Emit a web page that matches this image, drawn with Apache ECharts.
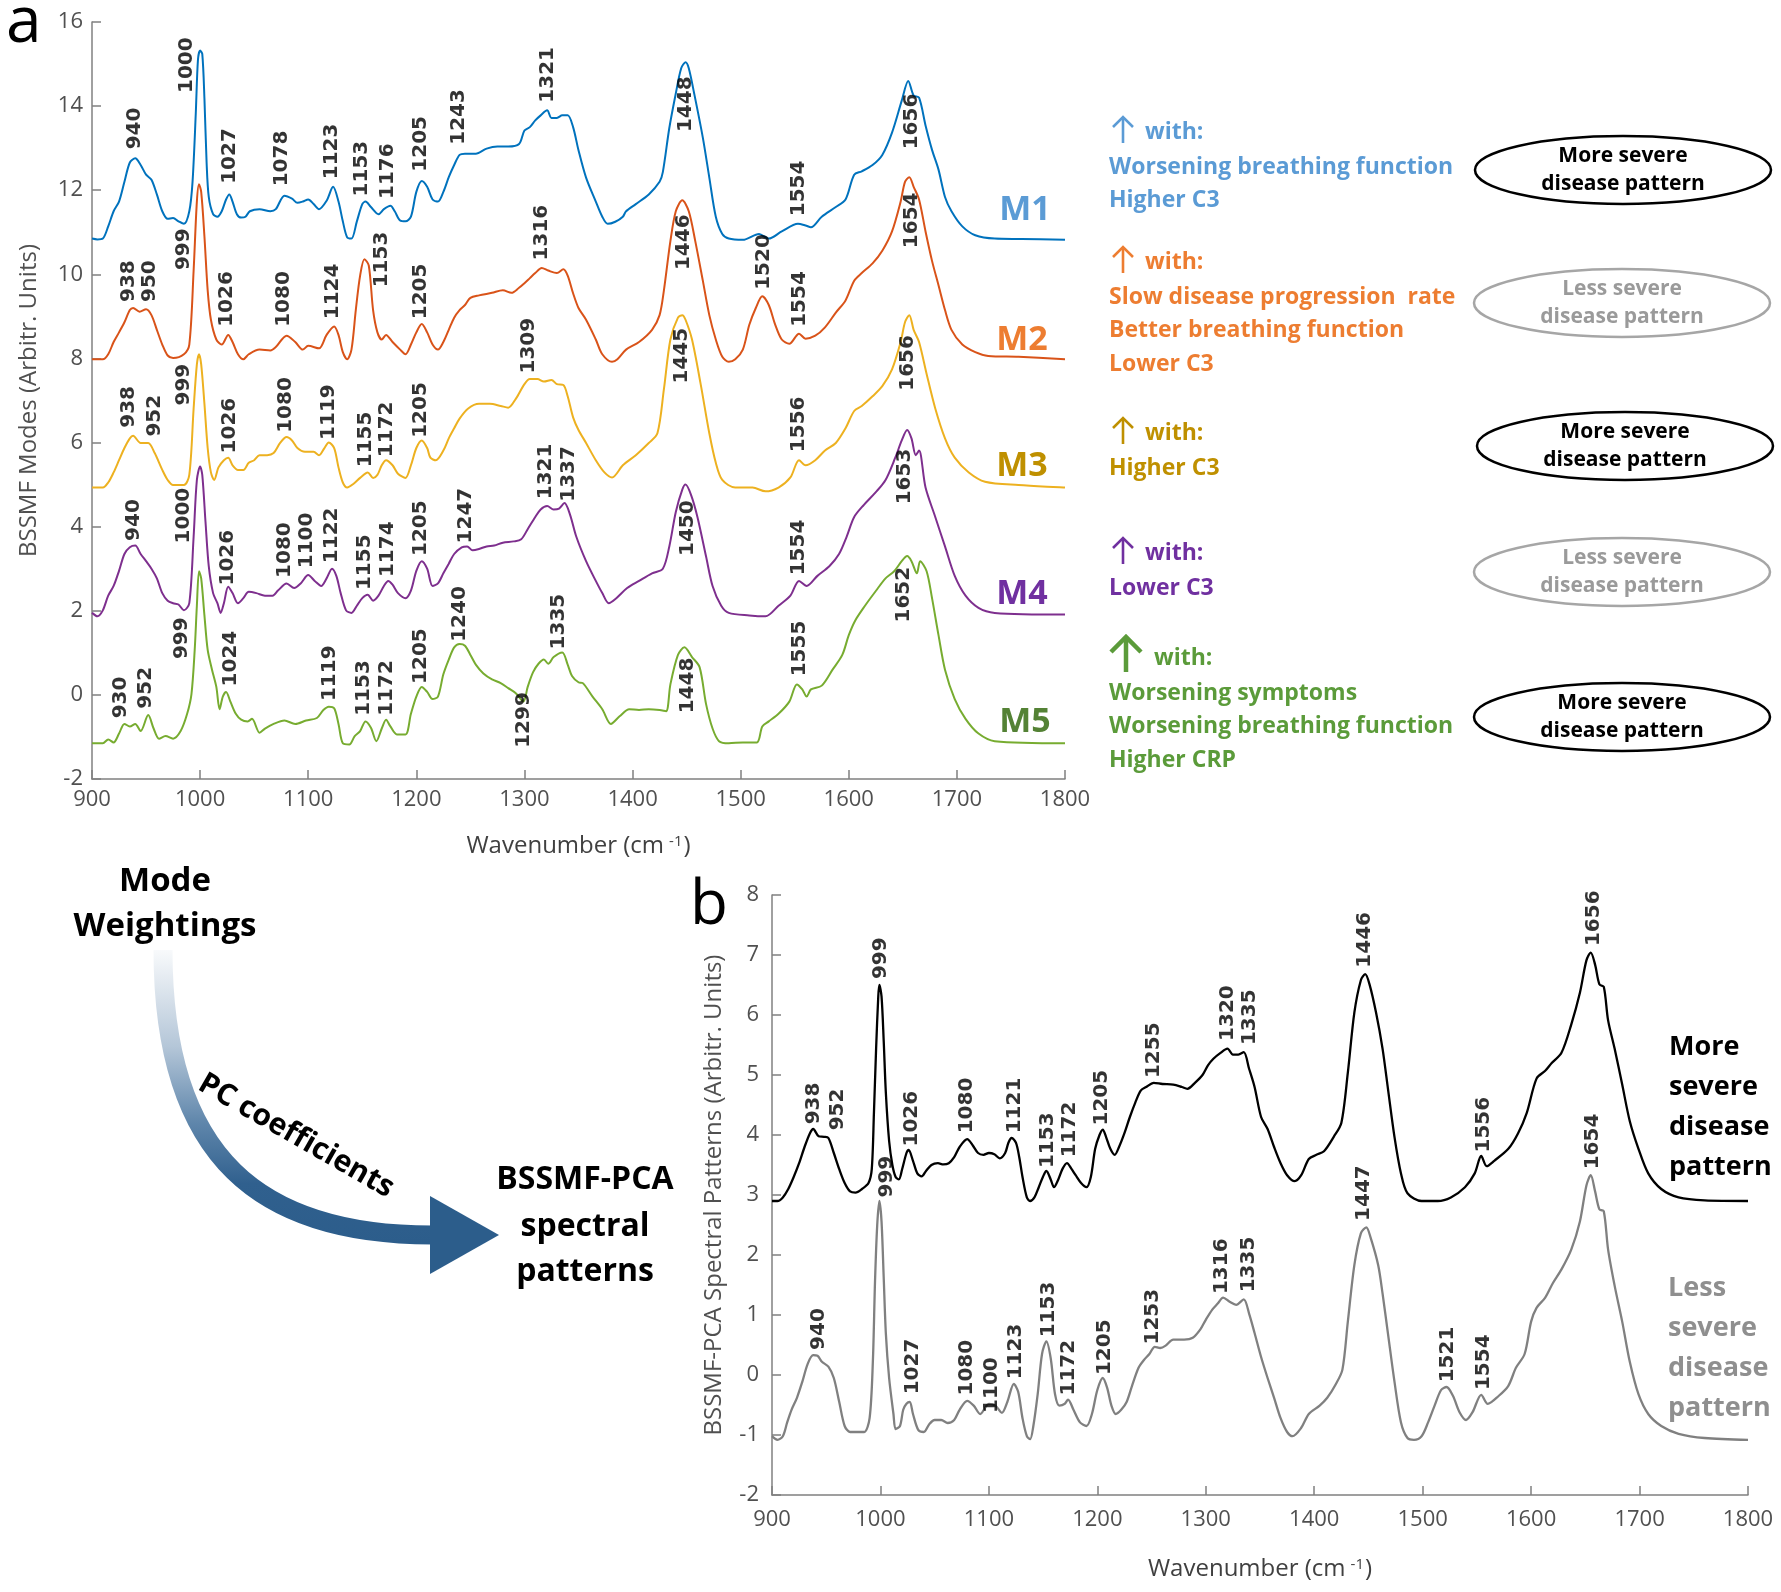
<!DOCTYPE html>
<html>
<head>
<meta charset="utf-8">
<script src="https://cdn.jsdelivr.net/npm/echarts@6/dist/echarts.min.js"></script>
<style>html,body{margin:0;padding:0;background:#fff}#c{width:1781px;height:1592px}</style>
</head>
<body>
<div id="c"></div>
<script>
// ---------- Panel a: BSSMF modes (wavenumber, value) ----------
const m1 = [[900,10.85],[905,10.83],[910,10.85],[915,11.14],[920,11.5],[925,11.73],[930,12.2],[935,12.66],[940,12.76],[945,12.6],[950,12.37],[955,12.25],[960,11.9],[965,11.5],[970,11.32],[975,11.34],[980,11.26],[985,11.2],[990,11.5],[993,12.2],[996,13.83],[998,15.1],[1000,15.32],[1002,15.24],[1004,14.18],[1006,12.66],[1008,11.84],[1012,11.43],[1016,11.37],[1020,11.5],[1024,11.78],[1027,11.9],[1030,11.73],[1034,11.43],[1038,11.35],[1042,11.37],[1046,11.5],[1055,11.55],[1065,11.5],[1070,11.55],[1078,11.87],[1085,11.8],[1090,11.7],[1095,11.73],[1100,11.78],[1105,11.67],[1110,11.55],[1117,11.75],[1123,12.08],[1128,11.73],[1132,11.26],[1136,10.88],[1140,10.85],[1145,11.26],[1150,11.67],[1153,11.73],[1158,11.6],[1165,11.43],[1170,11.55],[1176,11.63],[1180,11.5],[1185,11.28],[1190,11.26],[1195,11.37],[1200,11.96],[1205,12.22],[1210,12.08],[1215,11.78],[1220,11.73],[1225,11.96],[1230,12.31],[1235,12.6],[1240,12.84],[1245,12.87],[1255,12.87],[1265,12.99],[1275,13.04],[1285,13.04],[1295,13.1],[1300,13.42],[1305,13.5],[1310,13.66],[1315,13.78],[1321,13.9],[1325,13.72],[1330,13.72],[1335,13.78],[1340,13.78],[1345,13.5],[1350,12.95],[1357,12.3],[1366,11.73],[1372,11.37],[1377,11.2],[1384,11.25],[1391,11.37],[1394,11.5],[1403,11.67],[1415,11.9],[1425,12.2],[1428,12.43],[1434,13.48],[1440,14.3],[1445,14.9],[1449,15.04],[1452,14.9],[1457,14.3],[1465,13.25],[1471,12.3],[1477,11.37],[1483,10.96],[1489,10.85],[1502,10.82],[1517,10.96],[1526,10.85],[1538,11.02],[1553,11.2],[1560,11.16],[1565,11.12],[1575,11.37],[1588,11.6],[1597,11.78],[1605,12.37],[1612,12.45],[1622,12.6],[1631,12.84],[1640,13.37],[1649,14.13],[1655,14.6],[1660,14.25],[1665,14.2],[1671,13.54],[1677,12.96],[1683,12.49],[1689,11.84],[1695,11.5],[1705,11.14],[1717,10.93],[1735,10.85],[1760,10.84],[1800,10.82]];
const m2 = [[900,7.98],[910,7.98],[915,8.1],[920,8.39],[925,8.62],[930,8.86],[935,9.15],[938,9.2],[944,9.11],[950,9.17],[955,9.03],[960,8.68],[965,8.33],[970,8.07],[975,8.01],[985,8.1],[990,8.33],[994,10.09],[997,11.73],[999,12.14],[1001,11.96],[1004,10.9],[1007,9.62],[1010,8.92],[1015,8.45],[1020,8.33],[1026,8.56],[1030,8.39],[1035,8.1],[1040,7.98],[1045,8.1],[1055,8.21],[1065,8.19],[1070,8.27],[1080,8.54],[1088,8.39],[1095,8.21],[1100,8.3],[1110,8.24],[1117,8.56],[1124,8.76],[1128,8.56],[1132,8.15],[1136,7.98],[1140,8.21],[1144,9.15],[1148,9.97],[1152,10.36],[1156,10.21],[1160,9.15],[1164,8.62],[1168,8.45],[1172,8.56],[1178,8.39],[1185,8.21],[1190,8.1],[1195,8.33],[1200,8.62],[1205,8.82],[1210,8.62],[1215,8.33],[1220,8.21],[1225,8.39],[1230,8.68],[1235,8.97],[1240,9.15],[1245,9.27],[1250,9.44],[1258,9.5],[1270,9.56],[1280,9.62],[1288,9.56],[1295,9.68],[1300,9.79],[1305,9.91],[1310,10.03],[1316,10.15],[1322,10.09],[1330,10.03],[1336,10.12],[1340,9.97],[1345,9.55],[1350,9.2],[1357,8.92],[1366,8.45],[1372,8.1],[1381,7.92],[1386,7.98],[1394,8.21],[1406,8.39],[1418,8.68],[1425,9.03],[1429,9.62],[1435,10.79],[1440,11.5],[1446,11.76],[1452,11.5],[1458,10.79],[1465,9.85],[1471,9.03],[1477,8.45],[1483,8.04],[1489,7.92],[1495,7.98],[1502,8.21],[1508,8.8],[1514,9.2],[1520,9.48],[1526,9.27],[1532,8.8],[1538,8.45],[1545,8.35],[1554,8.59],[1560,8.47],[1569,8.54],[1578,8.74],[1588,9.09],[1597,9.38],[1605,9.85],[1612,10.03],[1622,10.26],[1631,10.56],[1640,11.02],[1648,11.73],[1652,12.2],[1656,12.31],[1660,12.08],[1665,11.78],[1671,11.02],[1677,10.32],[1683,9.74],[1689,9.15],[1695,8.68],[1705,8.33],[1717,8.15],[1729,8.06],[1757,8.04],[1800,7.98]];
const m3 = [[900,4.93],[910,4.93],[915,5.05],[920,5.29],[925,5.58],[930,5.87],[935,6.1],[938,6.16],[945,5.99],[952,5.99],[958,5.75],[965,5.35],[970,5.11],[975,4.99],[985,4.99],[990,5.23],[994,6.81],[997,7.86],[999,8.1],[1001,7.86],[1004,6.92],[1007,5.87],[1010,5.29],[1013,5.11],[1017,5.41],[1022,5.58],[1026,5.64],[1030,5.46],[1035,5.35],[1040,5.35],[1045,5.52],[1050,5.58],[1055,5.7],[1062,5.7],[1068,5.75],[1074,5.99],[1080,6.13],[1085,6.05],[1090,5.87],[1097,5.78],[1105,5.78],[1110,5.7],[1115,5.87],[1119,6.0],[1124,5.87],[1128,5.41],[1132,5.05],[1136,4.93],[1142,5.02],[1148,5.16],[1155,5.29],[1160,5.16],[1164,5.23],[1168,5.46],[1172,5.58],[1178,5.46],[1183,5.26],[1190,5.16],[1195,5.46],[1200,5.87],[1205,6.05],[1210,5.87],[1213,5.64],[1218,5.58],[1225,5.81],[1230,6.1],[1235,6.34],[1240,6.57],[1248,6.81],[1258,6.92],[1268,6.92],[1278,6.87],[1285,6.83],[1292,7.04],[1300,7.39],[1305,7.51],[1312,7.51],[1318,7.45],[1325,7.49],[1330,7.39],[1336,7.37],[1340,7.1],[1345,6.6],[1350,6.3],[1357,5.99],[1366,5.58],[1374,5.29],[1381,5.17],[1391,5.46],[1403,5.7],[1415,5.99],[1423,6.22],[1429,7.27],[1435,8.45],[1442,8.97],[1446,9.03],[1449,8.92],[1455,8.45],[1463,7.39],[1471,6.22],[1477,5.52],[1483,5.11],[1495,4.93],[1511,4.93],[1523,4.84],[1535,4.93],[1546,5.17],[1554,5.58],[1560,5.46],[1569,5.58],[1578,5.81],[1588,5.99],[1597,6.34],[1605,6.75],[1612,6.87],[1622,7.1],[1631,7.34],[1640,7.74],[1648,8.39],[1652,8.86],[1656,9.03],[1660,8.68],[1665,8.39],[1672,7.63],[1680,6.81],[1689,6.1],[1698,5.64],[1711,5.29],[1726,5.07],[1757,4.99],[1800,4.93]];
const m4 = [[900,1.95],[905,1.87],[910,2.01],[915,2.36],[920,2.59],[925,2.95],[930,3.35],[935,3.51],[940,3.55],[945,3.35],[950,3.18],[955,3.0],[960,2.77],[965,2.42],[970,2.24],[975,2.18],[980,2.15],[985,2.01],[990,2.18],[994,3.76],[997,5.11],[1000,5.43],[1002,5.23],[1005,4.11],[1008,3.06],[1012,2.42],[1016,2.18],[1019,1.95],[1022,2.18],[1026,2.57],[1030,2.42],[1035,2.18],[1040,2.3],[1045,2.45],[1052,2.42],[1060,2.36],[1067,2.36],[1072,2.48],[1080,2.65],[1087,2.54],[1093,2.65],[1100,2.85],[1106,2.71],[1112,2.59],[1117,2.77],[1122,3.0],[1126,2.83],[1130,2.42],[1135,2.01],[1140,1.95],[1145,2.12],[1150,2.3],[1155,2.38],[1160,2.24],[1165,2.36],[1170,2.59],[1174,2.71],[1178,2.62],[1183,2.42],[1190,2.3],[1195,2.48],[1200,2.95],[1205,3.18],[1210,3.0],[1215,2.59],[1220,2.65],[1225,2.89],[1230,3.12],[1235,3.35],[1242,3.51],[1247,3.53],[1252,3.44],[1258,3.47],[1265,3.53],[1272,3.55],[1280,3.62],[1290,3.65],[1297,3.7],[1303,3.94],[1310,4.23],[1315,4.41],[1321,4.49],[1327,4.41],[1332,4.43],[1337,4.56],[1342,4.3],[1348,3.76],[1357,3.18],[1366,2.71],[1372,2.42],[1378,2.18],[1385,2.3],[1395,2.54],[1406,2.71],[1418,2.89],[1428,3.0],[1434,3.53],[1440,4.35],[1446,4.88],[1449,5.0],[1454,4.76],[1460,4.23],[1468,3.29],[1474,2.59],[1482,2.12],[1489,1.95],[1508,1.89],[1523,1.87],[1535,2.12],[1546,2.36],[1554,2.71],[1561,2.59],[1571,2.83],[1582,3.06],[1591,3.35],[1598,3.76],[1605,4.23],[1614,4.52],[1625,4.82],[1634,5.11],[1643,5.64],[1649,6.05],[1654,6.3],[1658,6.1],[1662,5.7],[1665,5.81],[1671,4.93],[1680,4.23],[1689,3.53],[1698,2.83],[1708,2.36],[1720,2.07],[1735,1.95],[1800,1.91]];
const m5 = [[900,-1.15],[910,-1.15],[915,-1.06],[920,-1.13],[925,-0.92],[930,-0.69],[935,-0.75],[940,-0.69],[945,-0.86],[952,-0.48],[957,-0.8],[962,-1.04],[968,-0.98],[975,-1.04],[982,-0.86],[988,-0.45],[992,0.02],[995,1.07],[997,2.12],[999,2.94],[1001,2.77],[1004,1.89],[1007,1.07],[1011,0.6],[1015,0.19],[1018,-0.34],[1021,-0.04],[1024,0.07],[1028,-0.16],[1033,-0.45],[1038,-0.59],[1044,-0.63],[1048,-0.57],[1055,-0.9],[1060,-0.8],[1068,-0.69],[1078,-0.61],[1088,-0.69],[1098,-0.61],[1108,-0.55],[1114,-0.36],[1119,-0.28],[1124,-0.32],[1128,-0.69],[1132,-1.15],[1138,-1.18],[1143,-0.98],[1148,-0.86],[1153,-0.63],[1158,-0.78],[1163,-1.1],[1168,-0.8],[1172,-0.59],[1176,-0.75],[1182,-0.94],[1190,-0.94],[1195,-0.45],[1200,-0.04],[1205,0.19],[1210,0.07],[1215,-0.1],[1220,-0.04],[1225,0.49],[1230,0.84],[1235,1.13],[1240,1.21],[1245,1.17],[1250,0.95],[1255,0.72],[1262,0.51],[1270,0.37],[1278,0.28],[1285,0.16],[1292,0.04],[1299,-0.16],[1303,0.19],[1308,0.54],[1313,0.74],[1318,0.84],[1322,0.74],[1327,0.9],[1335,1.01],[1340,0.72],[1344,0.45],[1350,0.3],[1354,0.28],[1363,-0.04],[1372,-0.34],[1380,-0.69],[1388,-0.51],[1397,-0.34],[1406,-0.36],[1415,-0.34],[1425,-0.36],[1431,-0.39],[1435,0.25],[1442,0.95],[1448,1.13],[1455,0.9],[1462,0.66],[1468,-0.22],[1474,-0.8],[1480,-1.1],[1489,-1.15],[1502,-1.13],[1515,-1.13],[1520,-0.75],[1526,-0.63],[1535,-0.45],[1545,-0.16],[1552,0.25],[1557,0.13],[1561,-0.04],[1565,0.13],[1575,0.22],[1585,0.6],[1594,0.95],[1600,1.42],[1606,1.77],[1615,2.12],[1625,2.47],[1634,2.77],[1642,2.94],[1649,3.18],[1654,3.3],[1658,3.18],[1663,2.89],[1666,3.18],[1672,2.94],[1677,2.3],[1683,1.42],[1689,0.6],[1698,-0.1],[1708,-0.57],[1720,-0.92],[1735,-1.1],[1800,-1.15]];

// ---------- Panel b: BSSMF-PCA spectral patterns ----------
const moreSevere = [[900,2.9],[905,2.9],[910,2.96],[915,3.1],[920,3.3],[925,3.53],[930,3.8],[935,4.03],[938,4.1],[943,3.98],[948,3.97],[952,3.95],[957,3.7],[962,3.43],[967,3.2],[972,3.06],[977,3.04],[983,3.1],[989,3.2],[992,3.43],[994,4.37],[996,5.44],[998,6.31],[999,6.5],[1001,6.31],[1003,5.57],[1005,4.7],[1008,3.9],[1011,3.5],[1014,3.3],[1017,3.26],[1020,3.43],[1024,3.7],[1026,3.75],[1030,3.57],[1034,3.36],[1038,3.31],[1042,3.4],[1047,3.5],[1053,3.53],[1058,3.51],[1063,3.53],[1068,3.63],[1073,3.8],[1080,3.93],[1085,3.83],[1090,3.7],[1095,3.67],[1100,3.7],[1105,3.68],[1110,3.61],[1115,3.7],[1118,3.87],[1121,3.95],[1125,3.87],[1128,3.63],[1131,3.3],[1135,2.96],[1138,2.9],[1142,2.96],[1146,3.13],[1150,3.31],[1153,3.4],[1157,3.26],[1160,3.13],[1164,3.26],[1168,3.44],[1172,3.53],[1176,3.44],[1180,3.33],[1185,3.2],[1190,3.13],[1194,3.3],[1198,3.77],[1202,4.0],[1205,4.09],[1208,3.97],[1212,3.77],[1216,3.67],[1220,3.8],[1225,4.03],[1230,4.3],[1235,4.54],[1240,4.74],[1245,4.8],[1252,4.87],[1260,4.85],[1270,4.84],[1278,4.8],[1283,4.77],[1290,4.87],[1297,5.0],[1302,5.16],[1307,5.27],[1313,5.36],[1320,5.44],[1325,5.34],[1330,5.34],[1335,5.38],[1340,5.1],[1345,4.8],[1351,4.3],[1357,4.1],[1363,3.8],[1369,3.53],[1375,3.33],[1382,3.23],[1388,3.33],[1395,3.6],[1402,3.67],[1409,3.73],[1418,3.97],[1425,4.2],[1431,5.04],[1437,6.04],[1443,6.58],[1447,6.68],[1451,6.51],[1457,6.04],[1463,5.44],[1468,4.77],[1474,3.97],[1480,3.36],[1486,3.03],[1499,2.9],[1514,2.9],[1526,2.96],[1539,3.13],[1548,3.36],[1554,3.65],[1559,3.48],[1566,3.57],[1579,3.77],[1588,4.03],[1596,4.37],[1605,4.94],[1613,5.07],[1619,5.2],[1628,5.37],[1637,5.84],[1645,6.37],[1651,6.91],[1655,7.04],[1659,6.84],[1663,6.51],[1667,6.47],[1671,5.91],[1677,5.44],[1684,4.84],[1691,4.23],[1699,3.77],[1708,3.36],[1720,3.1],[1736,2.96],[1760,2.91],[1800,2.9]];
const lessSevere = [[900,-1.02],[905,-1.08],[910,-1.02],[914,-0.79],[918,-0.58],[923,-0.38],[928,-0.11],[933,0.19],[938,0.33],[942,0.32],[946,0.22],[952,0.14],[957,-0.05],[962,-0.45],[967,-0.85],[972,-0.95],[978,-0.95],[985,-0.95],[990,-0.72],[993,0.22],[995,1.56],[997,2.49],[999,2.9],[1001,2.56],[1003,1.63],[1005,0.69],[1008,-0.05],[1012,-0.65],[1014,-0.9],[1018,-0.85],[1021,-0.58],[1024,-0.48],[1027,-0.45],[1030,-0.65],[1035,-0.92],[1040,-0.95],[1045,-0.82],[1050,-0.75],[1056,-0.75],[1062,-0.8],[1068,-0.75],[1073,-0.58],[1080,-0.43],[1086,-0.51],[1092,-0.65],[1100,-0.48],[1106,-0.51],[1112,-0.63],[1117,-0.45],[1123,-0.15],[1127,-0.28],[1131,-0.72],[1135,-1.02],[1138,-1.07],[1141,-0.85],[1145,-0.32],[1149,0.35],[1153,0.56],[1157,0.28],[1161,-0.32],[1165,-0.51],[1170,-0.48],[1173,-0.41],[1178,-0.58],[1184,-0.79],[1190,-0.85],[1195,-0.65],[1200,-0.25],[1205,-0.05],[1209,-0.21],[1213,-0.51],[1217,-0.65],[1222,-0.58],[1227,-0.45],[1232,-0.18],[1238,0.12],[1243,0.25],[1248,0.35],[1253,0.47],[1258,0.45],[1263,0.49],[1270,0.59],[1280,0.59],[1288,0.62],[1295,0.76],[1300,0.92],[1306,1.09],[1311,1.19],[1316,1.29],[1322,1.22],[1328,1.17],[1335,1.26],[1340,1.02],[1345,0.7],[1351,0.3],[1357,-0.05],[1363,-0.38],[1369,-0.72],[1375,-0.95],[1380,-1.02],[1388,-0.88],[1395,-0.65],[1405,-0.51],[1412,-0.38],[1420,-0.15],[1426,0.09],[1431,0.89],[1437,1.83],[1443,2.36],[1448,2.46],[1452,2.29],[1459,1.83],[1463,1.36],[1468,0.69],[1474,-0.11],[1480,-0.79],[1486,-1.05],[1492,-1.08],[1499,-1.02],[1505,-0.79],[1511,-0.51],[1517,-0.25],[1522,-0.2],[1528,-0.35],[1534,-0.62],[1540,-0.75],[1546,-0.62],[1554,-0.33],[1560,-0.48],[1570,-0.35],[1579,-0.18],[1586,0.12],[1594,0.35],[1600,0.89],[1605,1.12],[1613,1.29],[1620,1.53],[1628,1.76],[1637,2.09],[1645,2.56],[1651,3.16],[1655,3.33],[1659,3.06],[1663,2.76],[1667,2.73],[1671,2.09],[1677,1.49],[1684,0.89],[1691,0.22],[1699,-0.32],[1708,-0.65],[1720,-0.85],[1736,-0.98],[1760,-1.05],[1800,-1.08]];

// ---------- Peak annotations: [x, y (start of text), label] ----------
const m1Peaks = [[940,12.96,'940'],[988,14.3,'1000'],[1027,12.14,'1027'],[1076,12.08,'1078'],[1122,12.25,'1123'],[1150,11.84,'1153'],[1174,11.78,'1176'],[1204,12.43,'1205'],[1239,13.07,'1243'],[1322,14.07,'1321'],[1449,13.37,'1448'],[1554,11.37,'1554'],[1658,12.96,'1656']];
const m2Peaks = [[934,9.33,'938'],[953,9.33,'950'],[985,10.09,'999'],[1025,8.74,'1026'],[1077,8.74,'1080'],[1123,8.92,'1124'],[1168,9.68,'1153'],[1204,8.92,'1205'],[1316,10.32,'1316'],[1447,10.09,'1446'],[1521,9.62,'1520'],[1555,8.74,'1554'],[1658,10.61,'1654']];
const m3Peaks = [[934,6.34,'938'],[958,6.13,'952'],[985,6.87,'999'],[1027,5.73,'1026'],[1079,6.22,'1080'],[1119,6.05,'1119'],[1153,5.4,'1155'],[1173,5.64,'1172'],[1204,6.1,'1205'],[1304,7.63,'1309'],[1446,7.39,'1445'],[1554,5.76,'1556'],[1655,7.22,'1656']];
const m4Peaks = [[939,3.65,'940'],[985,3.59,'1000'],[1026,2.59,'1026'],[1078,2.77,'1080'],[1099,3.0,'1100'],[1122,3.12,'1122'],[1152,2.48,'1155'],[1174,2.79,'1174'],[1204,3.29,'1205'],[1246,3.59,'1247'],[1320,4.64,'1321'],[1341,4.58,'1337'],[1451,3.29,'1450'],[1554,2.83,'1554'],[1652,4.52,'1653']];
const m5Peaks = [[927,-0.57,'930'],[950,-0.34,'952'],[983,0.84,'999'],[1028,0.19,'1024'],[1120,-0.16,'1119'],[1151,-0.51,'1153'],[1173,-0.51,'1172'],[1204,0.25,'1205'],[1240,1.25,'1240'],[1299,-1.27,'1299'],[1332,1.07,'1335'],[1451,-0.45,'1448'],[1555,0.43,'1555'],[1651,1.71,'1652']];
const morePeaks = [[939,4.17,'938'],[961,4.07,'952'],[1000,6.59,'999'],[1029,3.8,'1026'],[1080,4.02,'1080'],[1124,4.02,'1121'],[1154,3.44,'1153'],[1175,3.62,'1172'],[1204,4.15,'1205'],[1252,4.94,'1255'],[1320,5.56,'1320'],[1341,5.49,'1335'],[1447,6.78,'1446'],[1556,3.7,'1556'],[1658,7.14,'1656']];
const lessPeaks = [[943,0.41,'940'],[1006,2.95,'999'],[1030,-0.33,'1027'],[1080,-0.35,'1080'],[1103,-0.64,'1100'],[1125,-0.08,'1123'],[1155,0.62,'1153'],[1174,-0.35,'1172'],[1207,-0.01,'1205'],[1251,0.5,'1253'],[1315,1.34,'1316'],[1340,1.37,'1335'],[1446,2.56,'1447'],[1523,-0.13,'1521'],[1556,-0.26,'1554'],[1657,3.42,'1654']];

const modeNames = ['M1','M2','M3','M4','M5'];
const xTicks = {min: 900, max: 1800, interval: 100};

// ---------- chart ----------
const chart = echarts.init(document.getElementById('c'), null, {renderer: 'canvas'});
const AX = '#808080', LBL = '#505050';
const lineColors = ['#0072bd', '#d95319', '#edb120', '#7e2f8e', '#77ac30'];
const textColors = ['#5b9bd5', '#ed7d31', '#bf9000', '#7030a0', '#5b9b3a'];
const modeLabelColors = ['#5b9bd5', '#ed7d31', '#bf9000', '#7030a0', '#548235'];

function xAxisCfg(gi, gap, margin) {
  return {
    gridIndex: gi, type: 'value', min: xTicks.min, max: xTicks.max, interval: xTicks.interval,
    axisLine: {show: true, onZero: false, lineStyle: {color: AX, width: 1.5}},
    axisTick: {show: true, inside: true, length: 9, lineStyle: {color: AX, width: 1.5}},
    splitLine: {show: false},
    axisLabel: {color: LBL, fontSize: 22, fontFamily: 'Open Sans', margin: margin, formatter: v => String(v)},
    name: '{t|Wavenumber (cm}{s|-1}{t|)}', nameLocation: 'middle', nameGap: gap,
    nameTextStyle: {rich: {
      t: {fontSize: 24, color: '#404040', fontFamily: 'Open Sans'},
      s: {fontSize: 15, color: '#404040', fontFamily: 'Open Sans', verticalAlign: 'top', padding: [0, 1, 0, 5]}
    }}
  };
}
function yAxisCfg(gi, min, max, interval, name, gap, margin) {
  return {
    gridIndex: gi, type: 'value', min: min, max: max, interval: interval,
    axisLine: {show: true, onZero: false, lineStyle: {color: AX, width: 1.5}},
    axisTick: {show: true, inside: true, length: 9, lineStyle: {color: AX, width: 1.5}},
    splitLine: {show: false},
    axisLabel: {color: LBL, fontSize: 22, fontFamily: 'Open Sans', margin: margin, formatter: v => String(v)},
    name: name, nameLocation: 'middle', nameGap: gap, nameRotate: 90,
    nameTextStyle: {fontSize: 24, color: '#505050', fontFamily: 'Open Sans'}
  };
}
function lineSeries(name, data, gi, color, width) {
  return {
    name: name, type: 'line', xAxisIndex: gi, yAxisIndex: gi, data: data,
    showSymbol: false, smooth: 0.3, lineStyle: {color: color, width: width}, z: 3, silent: true
  };
}
function peakSeries(arr, gi) {
  return {
    type: 'scatter', xAxisIndex: gi, yAxisIndex: gi, symbolSize: 1, silent: true, z: 5,
    itemStyle: {color: 'rgba(0,0,0,0)'},
    data: arr.map(p => ({value: [p[0], p[1]], name: p[2]})),
    label: {
      show: true, formatter: '{b}', position: 'top', distance: 0, rotate: 90,
      align: 'left', verticalAlign: 'middle',
      fontFamily: 'DejaVu Sans', fontWeight: 'bold', fontSize: 20, color: '#000'
    }
  };
}

const modes = [m1, m2, m3, m4, m5];
const modePeaks = [m1Peaks, m2Peaks, m3Peaks, m4Peaks, m5Peaks];
const series = [];
modes.forEach((d, i) => series.push(lineSeries(modeNames[i], d, 0, lineColors[i], 2)));
series.push(lineSeries('More severe', moreSevere, 1, '#000000', 2.3));
series.push(lineSeries('Less severe', lessSevere, 1, '#808080', 2.3));
modePeaks.forEach(p => series.push(peakSeries(p, 0)));
series.push(peakSeries(morePeaks, 1));
series.push(peakSeries(lessPeaks, 1));

// ---------- decorations ----------
const G = [];
function txt(x, y, text, font, fill, align, extra) {
  const st = Object.assign({text: text, font: font, fill: fill, align: align || 'left', verticalAlign: 'middle',
    textAlign: align || 'left', textVerticalAlign: 'middle'}, extra || {});
  return {type: 'text', x: x, y: y, z: 10, silent: true, style: st};
}
function upArrow(cx, top, bottom, half, arm, color, w) {
  G.push({type: 'line', z: 10, silent: true, shape: {x1: cx, y1: top + 1, x2: cx, y2: bottom},
    style: {stroke: color, lineWidth: w}});
  G.push({type: 'polyline', z: 10, silent: true,
    shape: {points: [[cx - half, top + arm], [cx, top], [cx + half, top + arm]]},
    style: {stroke: color, lineWidth: w, fill: null, lineJoin: 'miter', lineCap: 'butt'}});
}
G.push(txt(6, 24, 'a', '64px "Open Sans"', '#000'));
G.push(txt(690, 906, 'b', '62px "Open Sans"', '#000'));

const modeLabelPos = [[1025, 210], [1022, 340], [1022, 466], [1022, 594], [1025, 722]];
modeNames.forEach((n, i) => G.push(txt(modeLabelPos[i][0], modeLabelPos[i][1], n, 'bold 34px "Open Sans"', modeLabelColors[i], 'center')));

const LF = 'bold 23px "Open Sans"';
const blocks = [
  {c: textColors[0], y: 132, lines: ['Worsening breathing function', 'Higher C3']},
  {c: textColors[1], y: 262, lines: ['Slow disease progression  rate', 'Better breathing function', 'Lower C3']},
  {c: textColors[2], y: 433, lines: ['Higher C3']},
  {c: textColors[3], y: 553, lines: ['Lower C3']},
  {c: textColors[4], y: 658, lines: ['Worsening symptoms', 'Worsening breathing function', 'Higher CRP'], big: true}
];
blocks.forEach(b => {
  if (b.big) upArrow(1126, b.y - 21, b.y + 14, 15, 15, b.c, 4.5);
  else upArrow(1123, b.y - 15, b.y + 11, 10, 10, b.c, 2.6);
  G.push(txt(b.big ? 1154 : 1145, b.y, 'with:', LF, b.c));
  b.lines.forEach((l, k) => G.push(txt(1109, b.y + 35 + k * 33.5, l, LF, b.c)));
});

const ellipses = [
  {cx: 1623, cy: 170, more: true}, {cx: 1622, cy: 303, more: false}, {cx: 1625, cy: 446, more: true},
  {cx: 1622, cy: 572, more: false}, {cx: 1622, cy: 717, more: true}
];
ellipses.forEach(e => {
  const col = e.more ? '#000' : '#9a9a9a';
  G.push({type: 'ellipse', z: 10, silent: true, shape: {cx: e.cx, cy: e.cy, rx: 148, ry: 34},
    style: {fill: 'none', stroke: e.more ? '#000' : '#a6a6a6', lineWidth: 2.5}});
  G.push(txt(e.cx, e.cy - 14, e.more ? 'More severe' : 'Less severe', 'bold 21px "Open Sans"', col, 'center'));
  G.push(txt(e.cx, e.cy + 14, 'disease pattern', 'bold 21px "Open Sans"', col, 'center'));
});

['More', 'severe', 'disease', 'pattern'].forEach((w, k) => G.push(txt(1669, 1047 + k * 40, w, 'bold 27px "Open Sans"', '#000')));
['Less', 'severe', 'disease', 'pattern'].forEach((w, k) => G.push(txt(1668, 1288 + k * 40, w, 'bold 27px "Open Sans"', '#8f8f8f')));

const shadow = {shadowColor: 'rgba(0,0,0,0.45)', shadowBlur: 3, shadowOffsetX: 3, shadowOffsetY: 3};
G.push(txt(165, 882, 'Mode', 'bold 33px "Open Sans"', '#000', 'center', shadow));
G.push(txt(165, 927, 'Weightings', 'bold 33px "Open Sans"', '#000', 'center', shadow));
G.push(txt(585, 1180, 'BSSMF-PCA', 'bold 32px "Open Sans"', '#000', 'center', shadow));
G.push(txt(585, 1227, 'spectral', 'bold 32px "Open Sans"', '#000', 'center', shadow));
G.push(txt(585, 1272, 'patterns', 'bold 32px "Open Sans"', '#000', 'center', shadow));
const pc = txt(296, 1136, 'PC coefficients', 'bold 30px "Open Sans"', '#000', 'center', shadow);
pc.rotation = -0.52;
G.push(pc);

G.push({type: 'bezierCurve', z: 9, silent: true,
  shape: {x1: 163, y1: 950, cpx1: 163, cpy1: 1160, cpx2: 262, cpy2: 1235, x2: 432, y2: 1235},
  style: {fill: null, lineWidth: 19, stroke: new echarts.graphic.LinearGradient(0, 0, 0, 1, [
    {offset: 0, color: '#ffffff'}, {offset: 0.35, color: '#b4c6d8'}, {offset: 0.6, color: '#5f86ab'},
    {offset: 0.8, color: '#30608e'}, {offset: 1, color: '#2c5d8b'}])}});
G.push({type: 'polygon', z: 9, silent: true, shape: {points: [[430, 1196], [430, 1274], [499, 1235]]},
  style: {fill: '#2c5d8b'}});

chart.setOption({
  backgroundColor: '#ffffff',
  animation: false,
  grid: [
    {left: 92, top: 22, width: 973, height: 757},
    {left: 772, top: 895, width: 976, height: 600}
  ],
  xAxis: [xAxisCfg(0, 55, 10), xAxisCfg(1, 62, 14)],
  yAxis: [
    yAxisCfg(0, -2, 16, 2, 'BSSMF Modes (Arbitr. Units)', 51, 9),
    yAxisCfg(1, -2, 8, 1, 'BSSMF-PCA Spectral Patterns (Arbitr. Units)', 46, 13)
  ],
  series: series,
  graphic: {elements: G}
});
</script>
</body>
</html>
